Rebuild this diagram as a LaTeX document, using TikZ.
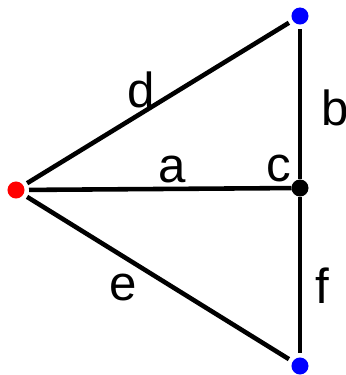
\documentclass[tikz,border=0pt]{standalone}
\usepackage{fontspec}
\setmainfont{Liberation Sans}
\usetikzlibrary{positioning}

\begin{document}
\begin{tikzpicture}[
      x=0.01cm, y=0.01cm,
      font=\fontsize{14}{16}\selectfont,
      dot/.style={circle, inner sep=0pt, minimum size=0.17cm, outer sep=0.045cm},
      hub/.style={dot, outer sep=0pt},
      edgelbl/.style={inner sep=0.035cm},
      link/.style={line width=1.3pt},
  ]
  \useasboundingbox (0,0) rectangle (346,375);

  %% vertices
  \node[dot, fill=red]  (left)   at (16,185)  {};
  \node[dot, fill=blue] (top)    at (300,359) {};
  \node[hub, fill=black](mid)    at (300,187) {};
  \node[dot, fill=blue] (bottom) at (300,9)   {};

  %% edges
  \draw[link] (left) -- node[edgelbl, pos=0.435, above]{d} (top);
  \draw[link] (left) -- node[edgelbl, pos=0.545, above]{a}
                        node[edgelbl, pos=0.95, above]{c} (mid);
  \draw[link] (left) -- node[edgelbl, pos=0.44, below left]{e} (bottom);
  \draw[link] (top)  -- node[edgelbl, pos=0.525, right=0.16cm]{b} (mid);
  \draw[link] (mid)  -- node[edgelbl, pos=0.57, right=0.1cm]{f} (bottom);

\end{tikzpicture}
\end{document}
